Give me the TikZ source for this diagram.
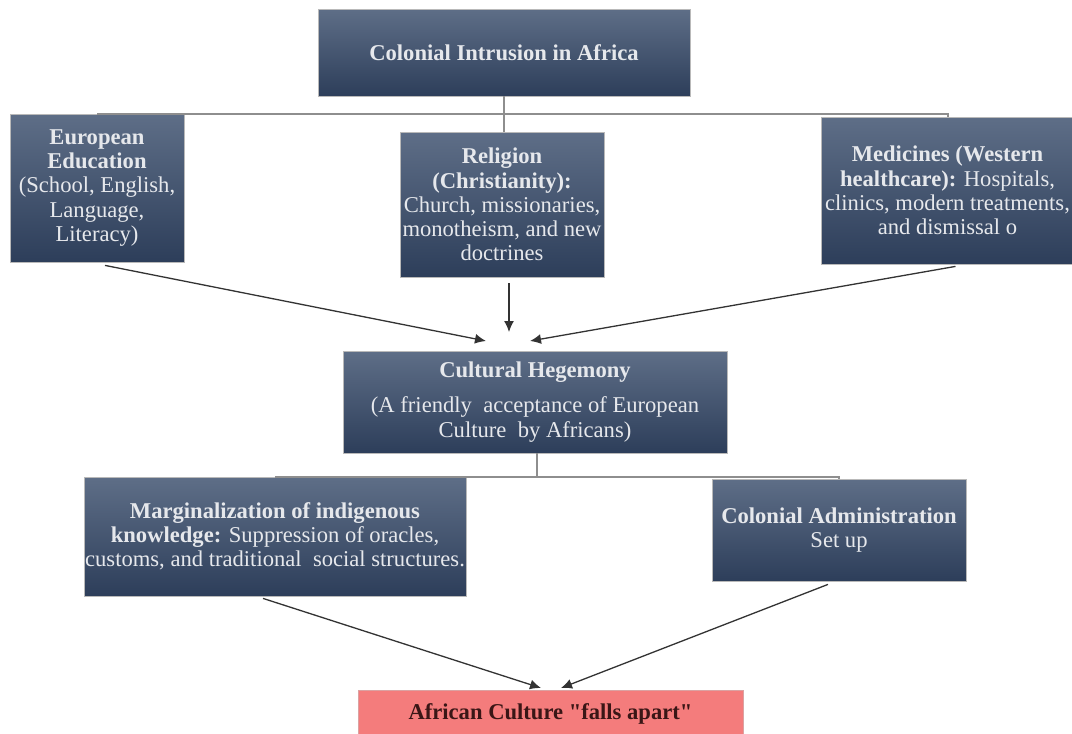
\documentclass[tikz,border=0pt]{standalone}
\usepackage{fontspec}
\setmainfont{Liberation Serif}
\usetikzlibrary{arrows.meta}
\definecolor{boxtop}{HTML}{5E6E87}
\definecolor{boxbot}{HTML}{2D3E5A}
\definecolor{boxtxt}{HTML}{E6E8EC}
\definecolor{redbox}{HTML}{F47C7C}
\definecolor{redtxt}{HTML}{3A1616}
\definecolor{treeline}{HTML}{8E8E8E}
\definecolor{arrline}{HTML}{333333}
\tikzset{
  bluebox/.style={rectangle, inner sep=0pt, top color=boxtop, bottom color=boxbot,
    draw=gray!55, line width=0.8pt, text=boxtxt, align=center,
    font=\fontsize{22.6}{24.2}\selectfont},
  redstyle/.style={rectangle, inner sep=0pt, fill=redbox, draw=redbox!80!black!60,
    line width=0.6pt, text=redtxt, align=center,
    font=\fontsize{22.6}{24.2}\selectfont\bfseries},
  treestyle/.style={draw=treeline, line width=2pt},
  arrstyle/.style={draw=arrline, line width=1.3pt, -{Latex[length=11pt,width=10pt]}}
}
\begin{document}
\begin{tikzpicture}[x=1pt,y=-1pt]
\clip (0,0) rectangle (1072,734);
\fill[white] (0,0) rectangle (1072,734);

\node[bluebox, minimum width=372pt, minimum height=87pt] (top) at (504,52.5)
  {\bfseries Colonial Intrusion in Africa};
\node[bluebox, minimum width=174pt, minimum height=148pt] (ee) at (97,188)
  {\bfseries European\\\bfseries Education\\(School, English,\\Language,\\Literacy)};
\node[bluebox, minimum width=204pt, minimum height=145pt] (rel) at (502,204.5)
  {\bfseries Religion\\\bfseries (Christianity):\\Church, missionaries,\\monotheism, and new\\doctrines};
\node[bluebox, minimum width=253pt, minimum height=147pt] (med) at (947.5,190.5)
  {\bfseries Medicines (Western\\\textbf{healthcare):} Hospitals,\\clinics, modern treatments,\\and dismissal o};
\node[bluebox, minimum width=384pt, minimum height=102pt] (ch) at (535,402)
  {\bfseries Cultural Hegemony\\[11pt](A friendly\ \ acceptance of European\\Culture\ \ by Africans)};
\node[bluebox, minimum width=382pt, minimum height=119pt] (mk) at (275,536.5)
  {\bfseries Marginalization of indigenous\\\textbf{knowledge:} Suppression of oracles,\\customs, and traditional\ \ social structures.};
\node[bluebox, minimum width=254pt, minimum height=102pt] (ca) at (839,530)
  {\bfseries Colonial Administration\\Set up};
\node[redstyle, minimum width=385pt, minimum height=48pt] (ac) at (550.5,714)
  {African Culture \textquotedbl falls apart\textquotedbl};

% tree connectors
\coordinate (j1) at (504,113);
\coordinate (j2) at (537,478);
\draw[treestyle] (top.south) -- (j1);
\draw[treestyle] (ee.north) -- (ee.north -| med.north) -- (med.north);
\draw[treestyle] (j1) -- (j1 |- rel.north);
\draw[treestyle] (ch.south -| j2) -- (j2);
\draw[treestyle] (mk.north) -- (mk.north -| ca.north) -- (ca.north);

% arrows
\coordinate (t1) at (486,341);
\coordinate (t2) at (509,332);
\coordinate (t3) at (530,341);
\coordinate (t4) at (541,688);
\coordinate (t5) at (561,688);
\draw[arrstyle] ([xshift=8pt,yshift=-3pt]ee.south) -- (t1);
\draw[arrstyle] ([xshift=7pt,yshift=-6pt]rel.south) -- (t2);
\draw[arrstyle] ([xshift=8pt,yshift=-2pt]med.south) -- (t3);
\draw[arrstyle] ([xshift=-12pt,yshift=-2pt]mk.south) -- (t4);
\draw[arrstyle] ([xshift=-11pt,yshift=-3pt]ca.south) -- (t5);
\end{tikzpicture}
\end{document}
